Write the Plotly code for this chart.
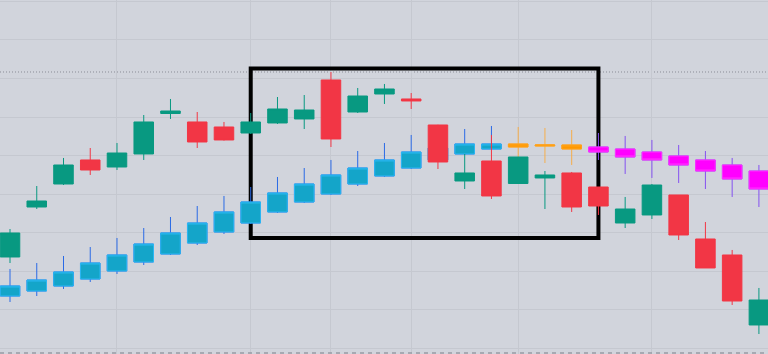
import plotly.graph_objects as go

# ---- data ----
bars = list(range(29))

# Series A (green / red candles)
a_open = [123.69, 136.66, 142.63, 148.86, 147.04, 150.42, 160.92, 158.72, 157.42, 155.86,
          158.46, 159.50, 169.62, 161.31, 165.98, 164.69, 157.94, 143.41, 148.60, 142.76,
          144.19, 145.49, 141.85, 132.51, 134.59, 139.78, 128.36, 124.21, 106.05]
a_high = [130.95, 142.11, 149.38, 151.97, 153.27, 160.53, 164.69, 161.31, 158.72, 161.05,
          165.20, 165.72, 171.69, 167.54, 168.58, 166.24, 158.00, 150.42, 155.35, 149.64,
          146.00, 145.75, 141.85, 139.26, 142.63, 139.78, 132.77, 125.51, 115.65]
a_low = [122.13, 136.14, 142.37, 144.97, 146.26, 148.86, 159.50, 151.97, 153.90, 155.60,
         158.20, 156.90, 152.23, 161.05, 163.39, 162.09, 146.52, 141.33, 138.74, 142.63,
         136.14, 135.37, 134.59, 131.21, 133.55, 128.10, 120.84, 111.24, 103.71]
a_close = [129.92, 138.22, 147.56, 146.26, 150.67, 158.72, 161.57, 153.53, 154.05, 158.72,
           162.09, 161.83, 154.31, 165.46, 167.28, 164.17, 148.34, 145.49, 139.52, 149.64,
           144.97, 136.66, 136.92, 136.14, 142.37, 129.40, 120.84, 112.27, 112.53]

# Series B (coloured candles)
b_open = [113.57, 114.87, 116.16, 117.98, 120.06, 122.39, 124.47, 127.32, 130.18, 132.51,
          135.37, 137.96, 140.04, 142.63, 144.71, 146.78, 148.86, 150.42, 151.71, 152.23,
          152.49, 151.71, 152.23, 151.71, 150.93, 149.90, 148.86, 147.56, 146.00]
b_high = [120.58, 122.13, 123.95, 126.28, 128.62, 131.21, 134.07, 136.92, 139.52, 141.85,
          144.45, 146.78, 148.86, 151.19, 153.27, 155.35, 154.05, 156.90, 157.68, 157.42,
          157.16, 156.64, 155.86, 155.09, 154.05, 152.75, 151.19, 149.38, 147.56]
b_low = [112.01, 113.57, 115.39, 117.20, 119.28, 121.61, 124.21, 126.80, 129.66, 132.25,
         135.11, 137.70, 139.78, 142.11, 144.45, 146.52, 148.60, 150.16, 151.45, 149.64,
         148.08, 147.56, 148.86, 145.23, 144.19, 142.89, 141.33, 139.26, 136.66]
b_close = [116.16, 117.72, 119.80, 122.13, 124.21, 127.06, 129.92, 132.51, 135.37, 137.96,
           140.30, 142.63, 144.97, 146.78, 148.86, 150.93, 151.97, 153.01, 153.01, 153.01,
           152.75, 152.75, 150.93, 149.64, 148.86, 147.56, 146.00, 143.93, 141.33]
b_group = ["cyan", "cyan", "cyan", "cyan", "cyan", "cyan", "cyan", "cyan", "cyan", "cyan",
           "cyan", "cyan", "cyan", "cyan", "cyan", "cyan", "cyan", "cyan", "cyan", "orange",
           "orange", "orange", "magenta", "magenta", "magenta", "magenta", "magenta", "magenta", "magenta"]

# rectangle drawing (bar index / price)
rect_x = [9, 22]
rect_y = [128.62, 172.6]
price_line = 171.69

# gridlines
x_grid = [4, 9, 12, 15, 19, 24]
y_grid = [100, 110, 120, 130, 140, 150, 160, 170, 180, 190]

# ---- styles ----
BG = "#d1d4dc"
GRID = "#c5c8d0"
GREEN = "#089981"
RED = "#f23645"
STYLES = {
    "cyan": dict(body="#14a5c9", border="#2bb7f3", wick="#2a6ae6"),
    "orange": dict(body="#ff9800", border="#ffa21a", wick="rgba(250,170,60,0.9)"),
    "magenta": dict(body="#ff00ff", border="#ff33ff", wick="#8552f0"),
}


def candle(x, o, h, l, c, line_col, fill_col, lw=1):
    return go.Candlestick(
        x=x, open=o, high=h, low=l, close=c,
        increasing=dict(line=dict(color=line_col, width=lw), fillcolor=fill_col),
        decreasing=dict(line=dict(color=line_col, width=lw), fillcolor=fill_col),
        whiskerwidth=0, hoverinfo="skip", showlegend=False,
    )


fig = go.Figure()

# series B: wicks first, then bodies, per colour group
for g in ["cyan", "orange", "magenta"]:
    idx = [i for i, gg in enumerate(b_group) if gg == g]
    xs = [bars[i] for i in idx]
    o = [b_open[i] for i in idx]
    h = [b_high[i] for i in idx]
    l = [b_low[i] for i in idx]
    c = [b_close[i] for i in idx]
    st = STYLES[g]
    fig.add_trace(candle(xs, o, h, l, c, st["wick"], st["wick"]))
    top = [max(a, b) for a, b in zip(o, c)]
    bot = [min(a, b) for a, b in zip(o, c)]
    fig.add_trace(candle(xs, o, top, bot, c, st["border"], st["body"]))

# series A on top
fig.add_trace(go.Candlestick(
    x=bars, open=a_open, high=a_high, low=a_low, close=a_close,
    increasing=dict(line=dict(color=GREEN, width=1), fillcolor=GREEN),
    decreasing=dict(line=dict(color=RED, width=1), fillcolor=RED),
    whiskerwidth=0, hoverinfo="skip", showlegend=False,
))

fig.add_shape(type="rect", x0=rect_x[0], x1=rect_x[1], y0=rect_y[0], y1=rect_y[1],
              xref="x", yref="y", line=dict(color="black", width=4), layer="between")
fig.add_shape(type="line", x0=0, x1=1, xref="paper", y0=price_line, y1=price_line, yref="y",
              line=dict(color="#8a8d96", width=1, dash="1px,2px"), layer="between")
fig.add_shape(type="line", x0=0, x1=1, xref="paper", y0=98.8, y1=98.8, yref="y",
              line=dict(color="#989ba4", width=1.5, dash="4px,4px"))

fig.update_layout(
    width=768, height=354,
    margin=dict(l=0, r=0, t=0, b=0),
    paper_bgcolor=BG, plot_bgcolor=BG,
    showlegend=False,
    boxgap=0.27, boxgroupgap=0,
    xaxis=dict(range=[-0.374, 28.34], rangeslider=dict(visible=False),
               tickmode="array", tickvals=x_grid, showticklabels=False,
               showgrid=True, gridcolor=GRID, gridwidth=1, zeroline=False, showline=False,
               fixedrange=True),
    yaxis=dict(range=[98.52, 190.37], tickmode="array", tickvals=y_grid, showticklabels=False,
               showgrid=True, gridcolor=GRID, gridwidth=1, zeroline=False, showline=False,
               fixedrange=True),
)

fig.write_html("out.html")
